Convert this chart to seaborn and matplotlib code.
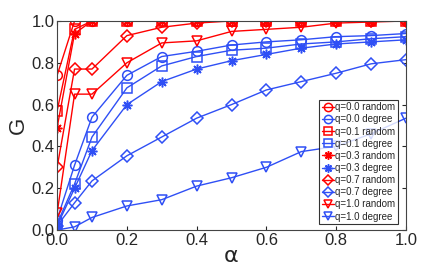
import numpy as np
import pandas as pd
import matplotlib
matplotlib.use('Agg')
import matplotlib.pyplot as plt
import seaborn as sns

# alpha values
alpha = [0.0, 0.05, 0.1, 0.2, 0.3, 0.4, 0.5, 0.6, 0.7, 0.8, 0.9, 1.0]

# random strategy
q00_random = [0.74, 1.0, 1.0, 1.0, 1.0, 1.0, 1.0, 1.0, 1.0, 1.0, 1.0, 1.0]
q01_random = [0.57, 0.96, 1.0, 1.0, 1.0, 1.0, 1.0, 1.0, 1.0, 1.0, 1.0, 1.0]
q03_random = [0.49, 0.94, 1.0, 1.0, 1.0, 1.0, 1.0, 1.0, 1.0, 1.0, 1.0, 1.0]
q07_random = [0.30, 0.77, 0.77, 0.93, 0.97, 0.99, 1.0, 1.0, 1.0, 1.0, 1.0, 1.0]
q10_random = [0.08, 0.65, 0.65, 0.80, 0.895, 0.905, 0.95, 0.96, 0.97, 0.99, 0.995, 1.0]

# degree strategy
q00_degree = [0.05, 0.31, 0.54, 0.74, 0.83, 0.855, 0.885, 0.90, 0.91, 0.925, 0.93, 0.94]
q01_degree = [0.03, 0.22, 0.445, 0.68, 0.785, 0.83, 0.86, 0.87, 0.89, 0.90, 0.915, 0.925]
q03_degree = [0.02, 0.20, 0.38, 0.60, 0.71, 0.77, 0.81, 0.84, 0.87, 0.89, 0.90, 0.91]
q07_degree = [0.02, 0.13, 0.235, 0.355, 0.445, 0.535, 0.60, 0.67, 0.71, 0.75, 0.795, 0.815]
q10_degree = [0.0, 0.015, 0.06, 0.115, 0.145, 0.21, 0.25, 0.30, 0.375, 0.40, 0.46, 0.535]

red = '#ff0000'
blue = '#2f4ff5'
star = (8, 2, 0)

series = [
    ('q=0.0 random', q00_random, red, 'o'),
    ('q=0.0 degree', q00_degree, blue, 'o'),
    ('q=0.1 random', q01_random, red, 's'),
    ('q=0.1 degree', q01_degree, blue, 's'),
    ('q=0.3 random', q03_random, red, star),
    ('q=0.3 degree', q03_degree, blue, star),
    ('q=0.7 random', q07_random, red, 'D'),
    ('q=0.7 degree', q07_degree, blue, 'D'),
    ('q=1.0 random', q10_random, red, 'v'),
    ('q=1.0 degree', q10_degree, blue, 'v'),
]

sns.set_style('ticks')
plt.rcParams['font.family'] = ['Liberation Sans', 'DejaVu Sans']
plt.rcParams['mathtext.fontset'] = 'dejavusans'

fig = plt.figure(figsize=(4.36, 2.69), dpi=100)
ax = fig.add_axes([0.131, 0.145, 0.80, 0.777])

for name, vals, col, mk in series:
    ms = 6 if mk == 'D' else 7
    sns.lineplot(x=alpha, y=vals, ax=ax, color=col, marker=mk, markersize=ms,
                 markerfacecolor='none', markeredgecolor=col, markeredgewidth=1.1,
                 linewidth=1.0, label=name)

ax.set_xlim(0, 1)
ax.set_ylim(0, 1)
ax.set_xticks([0, 0.2, 0.4, 0.6, 0.8, 1.0])
ax.set_yticks([0, 0.2, 0.4, 0.6, 0.8, 1.0])
ax.set_xticklabels(['0.0', '0.2', '0.4', '0.6', '0.8', '1.0'])
ax.set_yticklabels(['0.0', '0.2', '0.4', '0.6', '0.8', '1.0'])
ax.tick_params(direction='in', labelsize=12, length=3, top=True, right=True, pad=2)
for s in ax.spines.values():
    s.set_color('#444444')
    s.set_linewidth(0.8)
ax.set_xlabel('α', fontsize=16, labelpad=-1, family='DejaVu Sans')
ax.set_ylabel('G', fontsize=16, labelpad=2)

leg = ax.legend(loc='lower right', bbox_to_anchor=(0.977, 0.029), fontsize=7,
                handlelength=1.3, handletextpad=0.1, borderpad=0.25, labelspacing=0.22,
                borderaxespad=0, frameon=True, fancybox=False, markerscale=0.85)
leg.get_frame().set_edgecolor('black')
leg.get_frame().set_linewidth(0.8)

fig.savefig('out.png', dpi=100)
